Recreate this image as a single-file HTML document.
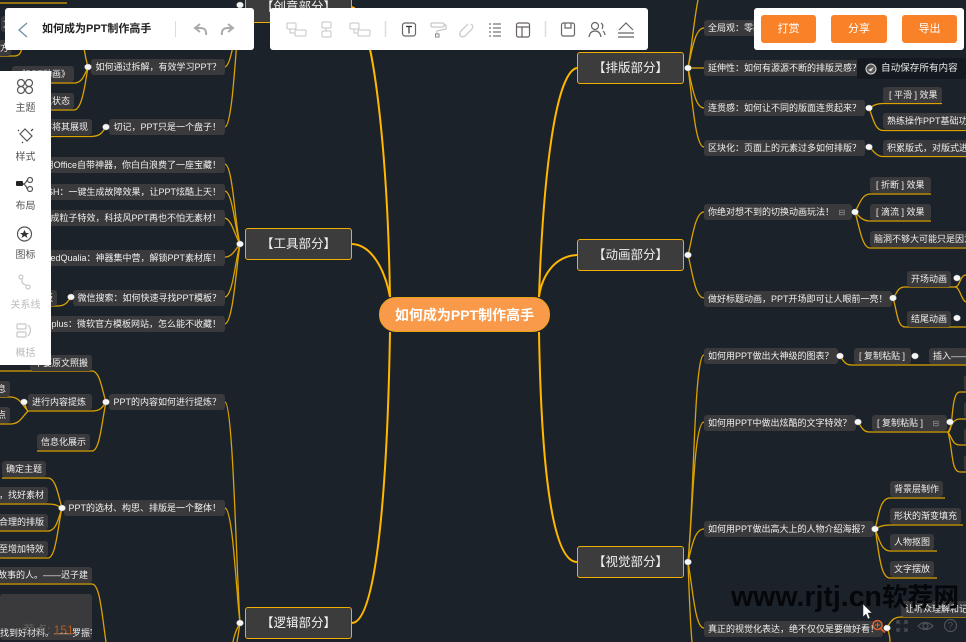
<!DOCTYPE html>
<html><head><meta charset="utf-8"><title>如何成为PPT制作高手</title>
<style>
html,body{margin:0;padding:0;width:966px;height:642px;overflow:hidden;background:#1c222a}
body{position:relative;font-family:"Liberation Sans","Noto Sans CJK SC",sans-serif;filter:blur(.3px)}
.n,.l1,.c,.p,.b,.t{position:absolute;white-space:nowrap;box-sizing:border-box}
.n{background:#3a3a3c;color:#f0f0f0;font-size:9px;line-height:16px;height:16px;padding:0 4px;border-radius:3px}
.l1{left:0;width:107px;height:32px;background:#3c3c3c;border:1.5px solid #f0ae00;border-radius:3px;color:#f0f0f0;font-size:12.5px;line-height:30px;text-align:center}
.c{left:379px;top:297px;width:171px;height:35px;border-radius:17px;background:#f99a4a;border:1px solid #e8a317;color:#fff;font-weight:bold;font-size:14px;line-height:35px;text-align:center}
.p{background:#fff;border-radius:3px}
.b{top:15px;height:28px;background:#f98128;border-radius:3px;color:#fff;font-size:11px;line-height:28px;text-align:center}
.t{font-size:10px;left:0;width:51px;text-align:center;color:#555}
svg{position:absolute;left:0;top:0}
</style></head><body>

<svg width="966" height="642" style="z-index:0">
<g fill="none" stroke="#ffb700" stroke-width="2">
<path d="M539 297C543 180 555 72 577 68"/>
<path d="M539 297C542 275 555 256 577 255"/>
<path d="M539 332C541 450 550 562 577 562"/>
<path d="M390 297C388 170 375 15 352 7"/>
<path d="M390 297C385 270 372 245 352 244"/>
<path d="M390 332C388 450 380 622 352 623"/>
</g>
<g fill="none" stroke="#dba200" stroke-width="1.300">
<path d="M688 68C692 45 694 20 698 0"/><path d="M688 68C692 50 695 28 704 28"/><path d="M688 68H704"/><path d="M688 68C692 85 695 108 704 108"/><path d="M688 68C692 95 695 147 704 147"/>
<path d="M688 255C692 240 695 212 704 212"/><path d="M688 255C692 270 695 298 704 298"/>
<path d="M688 562C694 500 694 355 704 355"/><path d="M688 562C693 510 694 422 704 422"/><path d="M688 562C692 545 695 529 704 529"/><path d="M688 562C693 590 695 628 704 628"/><path d="M688 562C689 590 690 620 692 642"/>
<path d="M225 164C233 166 235 225 240 244"/><path d="M225 191C233 193 235 230 240 244"/><path d="M225 218C232 220 235 236 240 244"/><path d="M225 257C232 257 235 250 240 244"/><path d="M225 297C233 295 235 262 240 244"/><path d="M225 324C233 322 236 270 240 244"/>
<path d="M225 67C232 65 236 25 240 5"/><path d="M225 127C233 125 236 40 240 5"/><path d="M225 28C232 26 236 15 240 5"/>
<path d="M225 402C233 404 236 560 240 623"/><path d="M225 508C233 510 236 590 240 623"/><path d="M240 623C239 630 238 636 237 642"/><path d="M240 623C236 630 234 636 233 642"/>
<path d="M88 67C86 60 85 55 84 48"/>
<path d="M0 83H74C82 83 84 76 88 67"/><path d="M0 110H74C82 110 85 85 88 67"/>
<path d="M0 56H14C20 56 21 52 22 48"/><path d="M0 3H67"/>
<path d="M0 136.500H92C100 136 102 133 106 127"/>
<path d="M0 306H57C65 306 67 303 71 297"/>
<path d="M0 371H92C100 371 102 390 106 402"/><path d="M28 411H92C100 411 102 408 106 402"/><path d="M37 451H92C100 451 102 420 106 402"/>
<path d="M0 397H10C20 397 22 405 28 411"/><path d="M0 424H10C20 424 22 417 28 411"/><path d="M24 402L27 410"/>
<path d="M2 478H48C56 478 58 495 62 508"/><path d="M0 504H48C56 504 58 506 62 508"/><path d="M0 531H48C56 531 58 520 62 508"/><path d="M0 558H48C56 558 58 525 62 508"/>
<path d="M0 584H92C100 584 102 615 106 642"/>
<path d="M869 108C873 106 876 103.500 883 103.500H942"/><path d="M869 108C873 118 875 130.500 883 130.500H966"/>
<path d="M869 147C873 150 876 156.500 883 156.500H966"/>
<path d="M855 212C859 205 862 194 870 194H931"/><path d="M855 212C859 216 862 221 870 221H931"/><path d="M855 212C859 225 862 248 870 248H966"/>
<path d="M893 298C897 294 897 287 905 287H955C960 287 960 275 966 275"/><path d="M955 287C960 287 961 300 966 302"/>
<path d="M893 298C897 310 897 327 905 327H966"/>
<path d="M840 356C843 360 845 365 851 365H966"/>
<path d="M858 422C861 426 863 432 869 432H948C954 432 950 392 960 392H966"/><path d="M948 432C952 425 953 419 960 419H966"/><path d="M948 432C953 440 953 445 960 445H966"/><path d="M948 432C953 450 951 472 960 472H966"/>
<path d="M875 529C879 515 880 498 890 498H945"/><path d="M875 529C879 527 882 525 890 525H963"/><path d="M875 529C879 538 881 551 890 551H937"/><path d="M875 529C879 550 880 578 890 578H937"/>
<path d="M887 628C890 622 893 617 901 617H966"/><path d="M887 628C889 632 890 637 890 642"/>
</g>
</svg>

<div class="l1" style="left:245px;top:-9px">【创意部分】</div>
<div class="l1" style="left:245px;top:228px">【工具部分】</div>
<div class="l1" style="left:245px;top:607px">【逻辑部分】</div>
<div class="l1" style="left:577px;top:52px">【排版部分】</div>
<div class="l1" style="left:577px;top:239px">【动画部分】</div>
<div class="l1" style="left:577px;top:546px">【视觉部分】</div>
<div class="c">如何成为PPT制作高手</div>

<div class="n" style="left:704px;top:20px">全局观：零基础如何快速掌握排版？</div>
<div class="n" style="left:704px;top:60px">延伸性：如何有源源不断的排版灵感？</div>
<div class="n" style="left:704px;top:100px">连贯感：如何让不同的版面连贯起来？</div>
<div class="n" style="left:704px;top:140px">区块化：页面上的元素过多如何排版？</div>
<div class="n" style="left:883px;top:87px;width:59px;padding-left:6px">[ 平滑 ] 效果</div>
<div class="n" style="left:883px;top:113px">熟练操作PPT基础功能</div>
<div class="n" style="left:883px;top:140px">积累版式，对版式进行</div>
<div class="n" style="left:870px;top:177px;width:61px;padding-left:6px">[ 折断 ] 效果</div>
<div class="n" style="left:870px;top:204px;width:61px;padding-left:6px">[ 滴流 ] 效果</div>
<div class="n" style="left:870px;top:231px">脑洞不够大可能只是因为</div>
<div class="n" style="left:704px;top:204px;width:148px">你绝对想不到的切换动画玩法！ <span style="color:#999;font-size:8px;margin-left:2px">⊟</span></div>
<div class="n" style="left:704px;top:291px">做好标题动画，PPT开场即可让人眼前一亮！</div>
<div class="n" style="left:907px;top:271px">开场动画</div>
<div class="n" style="left:907px;top:311px">结尾动画</div>
<div class="n" style="left:704px;top:348px">如何用PPT做出大神级的图表？</div>
<div class="n" style="left:854px;top:348px;width:57px;padding-left:5px">[ 复制粘贴 ]</div>
<div class="n" style="left:929px;top:348px">插入——图表</div>
<div class="n" style="left:704px;top:415px">如何用PPT中做出炫酷的文字特效？</div>
<div class="n" style="left:872px;top:415px;width:75px;padding-left:5px">[ 复制粘贴 ] <span style="color:#999;font-size:8px;margin-left:7px">⊟</span></div>
<div class="n" style="left:964px;top:375px"></div><div class="n" style="left:964px;top:402px"></div><div class="n" style="left:964px;top:428px"></div><div class="n" style="left:964px;top:455px"></div>
<div class="n" style="left:704px;top:521px">如何用PPT做出高大上的人物介绍海报？</div>
<div class="n" style="left:890px;top:481px">背景层制作</div>
<div class="n" style="left:890px;top:508px">形状的渐变填充</div>
<div class="n" style="left:890px;top:534px">人物抠图</div>
<div class="n" style="left:890px;top:561px">文字摆放</div>
<div class="n" style="left:704px;top:621px">真正的视觉化表达，绝不仅仅是要做好看！</div>
<div class="n" style="left:901px;top:601px">让听众理解和记住</div>

<div class="n" style="right:741px;top:59px">如何通过拆解，有效学习PPT？</div>
<div class="n" style="right:741px;top:119px">切记，PPT只是一个盘子！</div>
<div class="n" style="right:874px;top:119px">并将其展现</div>
<div class="n" style="right:892px;top:66px">《PPT动画》</div>
<div class="n" style="right:892px;top:93px">进入状态</div>
<div class="n" style="right:952px;top:16px;padding:0 2px">方</div>
<div class="n" style="right:955px;top:40px;padding:0 2px">方</div>
<div class="n" style="right:741px;top:157px">不会用Office自带神器，你白白浪费了一座宝藏！</div>
<div class="n" style="right:741px;top:184px">FLASH：一键生成故障效果，让PPT炫酷上天！</div>
<div class="n" style="right:741px;top:210px">一键生成粒子特效，科技风PPT再也不怕无素材！</div>
<div class="n" style="right:741px;top:250px">FlashedQualia：神器集中营，解锁PPT素材库！</div>
<div class="n" style="right:741px;top:290px">微信搜索：如何快速寻找PPT模板？</div>
<div class="n" style="right:909px;top:290px">搜索模板</div>
<div class="n" style="right:741px;top:316px">Officeplus：微软官方模板网站，怎么能不收藏！</div>
<div class="n" style="right:874px;top:355px">不要原文照搬</div>
<div class="n" style="right:741px;top:394px">PPT的内容如何进行提炼？</div>
<div class="n" style="left:28px;top:394px;width:64px">进行内容提炼</div>
<div class="n" style="right:956px;top:381px">息</div>
<div class="n" style="right:956px;top:407px">点</div>
<div class="n" style="left:37px;top:434px">信息化展示</div>
<div class="n" style="right:741px;top:500px">PPT的选材、构思、排版是一个整体！</div>
<div class="n" style="left:2px;top:461px">确定主题</div>
<div class="n" style="right:918px;top:487px">，找好素材</div>
<div class="n" style="right:918px;top:514px">合理的排版</div>
<div class="n" style="right:918px;top:541px">至增加特效</div>
<div class="n" style="right:874px;top:567px">故事的人。——迟子建</div>
<div class="n" style="left:0;top:594px;width:92px;height:46px;line-height:16px;padding:31px 4px 0 0;text-align:right;overflow:hidden">找到好材料。——罗振宇</div>
<div style="position:absolute;left:23px;top:622px;font-size:12px;line-height:16px;color:#626262;white-space:nowrap">荐点: <span style="color:#b95a18">151</span></div>

<svg width="966" height="642" style="z-index:1">
<g fill="#f6f6f6" stroke="#aaa" stroke-width=".5">
<ellipse cx="688" cy="68" rx="3.400" ry="3"/><ellipse cx="688" cy="255" rx="3.400" ry="3"/><ellipse cx="688" cy="562" rx="3.400" ry="3"/>
<ellipse cx="240" cy="244" rx="3.400" ry="3"/><ellipse cx="240" cy="623" rx="3.400" ry="3"/><ellipse cx="240" cy="5" rx="3.400" ry="3"/>
<ellipse cx="88" cy="67" rx="3.400" ry="3"/><ellipse cx="106" cy="127" rx="3.400" ry="3"/><ellipse cx="71" cy="297" rx="3.400" ry="3"/><ellipse cx="106" cy="402" rx="3.400" ry="3"/><ellipse cx="24" cy="402" rx="3.400" ry="3"/><ellipse cx="62" cy="508" rx="3.400" ry="3"/>
<ellipse cx="869" cy="108" rx="3.400" ry="3"/><ellipse cx="869" cy="147" rx="3.400" ry="3"/><ellipse cx="855" cy="212" rx="3.400" ry="3"/><ellipse cx="893" cy="298" rx="3.400" ry="3"/><ellipse cx="957" cy="278" rx="3.400" ry="3"/><ellipse cx="957" cy="318" rx="3.400" ry="3"/><ellipse cx="840" cy="356" rx="3.400" ry="3"/><ellipse cx="915" cy="356" rx="3.400" ry="3"/><ellipse cx="858" cy="422" rx="3.400" ry="3"/><ellipse cx="950" cy="422" rx="3.400" ry="3"/><ellipse cx="875" cy="529" rx="3.400" ry="3"/><ellipse cx="887" cy="628" rx="3.400" ry="3"/>
</g></svg>

<div style="position:absolute;left:857px;top:58px;width:109px;height:21px;background:#141920;border-radius:3px;z-index:2">
<svg width="14" height="14" style="left:7px;top:4px"><circle cx="7" cy="7" r="5" fill="#555" stroke="#ddd"/><path d="M4 8L10 5L7 9.500Z" fill="#ddd"/></svg>
<span style="position:absolute;left:24px;top:0;font-size:9.600px;line-height:21px;color:#e8e8e8;white-space:nowrap">自动保存所有内容</span></div>

<div style="position:absolute;left:731px;top:575px;line-height:44px;font-weight:bold;color:#05070a;white-space:nowrap;z-index:3"><span style="font-size:28.500px">www.rjtj.cn</span><span style="font-size:25.700px">软荐网</span></div>

<svg width="966" height="642" style="z-index:4">
<g fill="none" stroke="#4d5257" stroke-width="1.200">
<path d="M897 624V621H900M904 621H907V624M907 628V631H904M900 631H897V628M897 621L900 624M907 621L904 624M907 631L904 628M897 631L900 628"/>
<path d="M918 626Q925 619 933 626Q925 633 918 626Z"/><circle cx="925.500" cy="626" r="2.500"/>
<circle cx="950.500" cy="625.500" r="6"/></g>
<text x="947.500" y="629" font-size="10" fill="#4d5257" font-family="Liberation Sans">?</text>
<circle cx="877.500" cy="625" r="4.500" fill="none" stroke="#e85d24" stroke-width="1.500"/><path d="M881 629L885 632.500" stroke="#e85d24" stroke-width="1.800"/><path d="M875 625H880M877.500 622.500V627.500" stroke="#e85d24"/>
<path d="M863 604V617L866 614L868 619L870 618L868 613H872Z" fill="#fff" stroke="#222" stroke-width=".5"/>
</svg>

<div class="p" style="left:5px;top:8px;width:249px;height:42px;z-index:5">
<svg width="249" height="42"><path d="M22 15L14 22L22 29" fill="none" stroke="#6f8fa3" stroke-width="1.300"/>
<path d="M170.500 13V29" stroke="#ddd"/>
<path d="M201 27Q202 20 195 20H191M195 16L190 20L195 24" fill="none" stroke="#aaa" stroke-width="2"/>
<path d="M217 27Q216 20 223 20H228M223 16L228 20L223 24" fill="none" stroke="#aaa" stroke-width="2"/></svg>
<span style="position:absolute;left:37px;top:0;font-size:11px;line-height:43px;font-weight:bold;color:#222;white-space:nowrap">如何成为PPT制作高手</span></div>

<div class="p" style="left:270px;top:8px;width:378px;height:42px;z-index:5">
<svg width="378" height="42"><g fill="none" stroke="#c4c4c4" stroke-width="1">
<rect x="17" y="15" width="9" height="6" rx="1"/><rect x="25" y="22" width="11" height="6" rx="1"/><path d="M20 21V25H25"/>
<rect x="52" y="14" width="9" height="6" rx="1"/><rect x="52" y="23" width="9" height="6" rx="1"/><path d="M56 20V23"/>
<rect x="80" y="15" width="9" height="6" rx="1"/><rect x="88" y="22" width="12" height="6" rx="1"/><path d="M84 21V25H88"/>
<path d="M115.500 13V29" stroke="#ddd" stroke-width="1.500"/>
<path d="M275.500 13V29" stroke="#ddd" stroke-width="1.500"/>
<rect x="161" y="15" width="13" height="4" rx="1" stroke="#bbb"/><path d="M174 17H176V21L167 23V26" stroke="#bbb"/><rect x="165.500" y="26" width="3.500" height="3" stroke="#888"/>
<path d="M201 16Q204 18 202 21L195 28Q191 30 190 27Q189 25 192 22L198 16" stroke="#ccc" stroke-width="1.300"/>
</g>
<g fill="none" stroke="#666" stroke-width="1.200">
<rect x="132.500" y="15" width="13" height="13" rx="2.500"/><path d="M136 18.500H142M139 18.500V25.500" stroke="#333"/>
<path d="M223 16H231M223 20H231M223 24H231M223 28H231M219 16H221M219 20H221M219 24H221M219 28H221" stroke="#777"/>
<rect x="246.500" y="15" width="13" height="14" rx="2" stroke="#6b5f5f"/><path d="M246.500 19H259.500M252 19V29" stroke="#6b5f5f"/>
<rect x="291.500" y="15" width="13" height="13" rx="2"/><path d="M295 15V20H301V15"/>
<circle cx="325" cy="18" r="3.500"/><path d="M319 29Q320 23 325 23Q330 23 331 29M331 15Q334 17 332 21M333 23Q335 25 335 27"/>
<path d="M349 22L356 15L363 22M348 25H364M348 29H364"/></g></svg></div>

<div class="p" style="left:754px;top:8px;width:210px;height:42px;z-index:5"></div>
<div class="b" style="left:761px;width:55px;z-index:6">打赏</div>
<div class="b" style="left:831px;width:56px;z-index:6">分享</div>
<div class="b" style="left:902px;width:55px;z-index:6">导出</div>

<div style="position:absolute;left:0;top:71px;width:51px;height:294px;background:#fff;z-index:5"></div>
<svg width="51" height="642" style="z-index:6"><g fill="none" stroke="#555" stroke-width="1.200">
<circle cx="21" cy="83" r="3.500"/><circle cx="29" cy="83" r="3.500"/><circle cx="21" cy="90" r="3.500"/><circle cx="29" cy="90" r="3.500"/>
<path d="M20 134L27 141L32 136L25 129Z"/><path d="M18 130L19 131M33 129L31 131M22 142L23 143" stroke="#333"/>
<circle cx="30" cy="180" r="2.500"/><circle cx="30" cy="189" r="2.500"/><path d="M22 184Q26 184 27 180M22 184Q26 184 27 189"/>
<circle cx="24.500" cy="234" r="7"/>
<g stroke="#c8c8c8"><circle cx="21" cy="277" r="2"/><circle cx="28" cy="287" r="2"/><path d="M22 279Q21 284 26 285"/>
<rect x="17" y="324" width="9" height="5" rx="1"/><rect x="17" y="332" width="9" height="5" rx="1"/><path d="M28 325Q33 330 28 336"/></g></g>
<rect x="16" y="181" width="7" height="5" rx="1" fill="#222"/>
<path d="M24.500 230L26 233H29L26.500 235L27.500 238L24.500 236L21.500 238L22.500 235L20 233H23Z" fill="#333"/></svg>
<div class="t" style="top:99px;z-index:7">主题</div>
<div class="t" style="top:148px;z-index:7">样式</div>
<div class="t" style="top:197px;z-index:7">布局</div>
<div class="t" style="top:246px;z-index:7">图标</div>
<div class="t" style="top:296px;z-index:7;color:#bbb">关系线</div>
<div class="t" style="top:344px;z-index:7;color:#bbb">概括</div>
</body></html>
